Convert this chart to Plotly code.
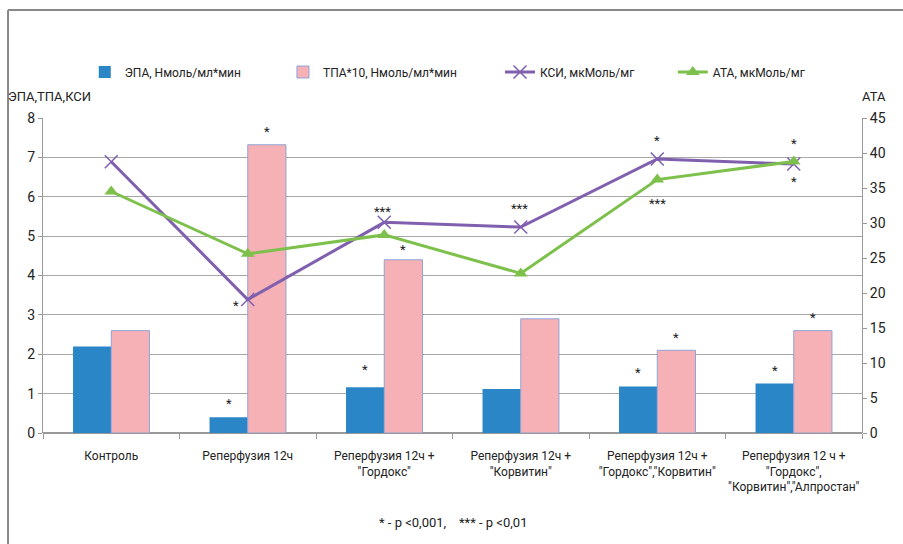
import plotly.graph_objects as go

categories = ["Контроль", "Реперфузия 12ч", "Реперфузия 12ч +<br>\"Гордокс\"",
              "Реперфузия 12ч +<br>\"Корвитин\"", "Реперфузия 12ч +<br>\"Гордокс\",\"Корвитин\"",
              "Реперфузия 12 ч +<br>\"Гордокс\",<br>\"Корвитин\",\"Алпростан\""]
epa = [2.2, 0.40, 1.16, 1.12, 1.18, 1.26]
tpa = [2.6, 7.32, 4.40, 2.9, 2.1, 2.6]
ksi = [6.89, 3.39, 5.35, 5.23, 6.96, 6.83]
ata = [34.5, 25.6, 28.3, 22.8, 36.2, 38.8]

left_ticks = [0, 1, 2, 3, 4, 5, 6, 7, 8]
right_ticks = [0, 5, 10, 15, 20, 25, 30, 35, 40, 45]

# significance marks: (category index offset, y on left axis, text)
stars = [
    (1 - 0.14, 0.74, "*"), (1 + 0.14, 7.65, "*"), (0.914, 3.23, "*"),
    (2 - 0.14, 1.61, "*"), (2 + 0.14, 4.66, "*"), (1.99, 5.62, "***"),
    (2.99, 5.70, "***"),
    (4 - 0.14, 1.53, "*"), (4 + 0.14, 2.42, "*"), (4, 7.42, "*"), (4, 5.82, "***"),
    (5 - 0.14, 1.58, "*"), (5 + 0.14, 2.93, "*"), (5, 7.35, "*"), (5, 6.38, "*"),
]

FONT = "Roboto, Liberation Sans, sans-serif"

fig = go.Figure()
fig.add_trace(go.Bar(x=categories, y=epa, name="ЭПА, Нмоль/мл*мин", legend="legend",
                     marker=dict(color="#2a86c6", line=dict(width=0))))
fig.add_trace(go.Bar(x=categories, y=tpa, name="ТПА*10, Нмоль/мл*мин", legend="legend2",
                     marker=dict(color="#f5b1b5", line=dict(color="#8fa3d8", width=1))))
fig.add_trace(go.Scatter(x=categories, y=ksi, name="КСИ, мкМоль/мг", mode="lines+markers",
                         legend="legend3",
                         line=dict(color="#7f5fae", width=3),
                         marker=dict(symbol="x-thin", size=13, line=dict(color="#7f5fae", width=1.5))))
fig.add_trace(go.Scatter(x=categories, y=ata, name="АТА, мкМоль/мг", mode="lines+markers", yaxis="y2",
                         legend="legend4",
                         line=dict(color="#7dc04b", width=3),
                         marker=dict(symbol="triangle-up", size=12, color="#7dc04b")))

annotations = []
for xi, yv, t in stars:
    annotations.append(dict(x=xi, y=yv, xref="x", yref="y", text=t, showarrow=False,
                            font=dict(size=13, color="#222", family=FONT), yanchor="middle"))
annotations.append(dict(x=-0.045, y=1.067, xref="paper", yref="paper", text="ЭПА,ТПА,КСИ",
                        showarrow=False, xanchor="left", yanchor="middle",
                        font=dict(size=13, color="#222", family=FONT)))
annotations.append(dict(x=0.998, y=1.067, xref="paper", yref="paper", text="АТА",
                        showarrow=False, xanchor="left", yanchor="middle",
                        font=dict(size=13, color="#222", family=FONT)))
annotations.append(dict(x=0.5, y=-0.283, xref="paper", yref="paper",
                        text="* - p &lt;0,001,&nbsp;&nbsp;&nbsp;&nbsp;*** - p &lt;0,01",
                        showarrow=False, xanchor="center", yanchor="middle",
                        font=dict(size=13, color="#222", family=FONT)))

shapes = [
    dict(type="line", xref="paper", yref="paper", x0=-0.0427, x1=1.06, y0=1.343, y1=1.343,
         line=dict(color="#888888", width=2)),
    dict(type="line", xref="paper", yref="paper", x0=-0.0427, x1=-0.0427, y0=1.343, y1=-0.4,
         line=dict(color="#888888", width=2)),
]

def leg(xp):
    return dict(orientation="h", x=xp, y=1.146, xanchor="left", yanchor="middle",
                font=dict(size=12, family=FONT), bgcolor="rgba(0,0,0,0)")

fig.update_layout(
    width=903, height=544,
    margin=dict(l=43, r=41, t=118, b=111, autoexpand=False),
    paper_bgcolor="white", plot_bgcolor="white",
    font=dict(family=FONT, size=13, color="#222"),
    barmode="group", bargap=0.44, bargroupgap=0,
    showlegend=True,
    legend=leg(0.051), legend2=leg(0.293), legend3=leg(0.558), legend4=leg(0.769),
    xaxis=dict(type="category", showgrid=False, showline=False, ticks="outside",
               tickson="boundaries", ticklen=5, tickcolor="#999", tickangle=0,
               ticklabelstandoff=14, automargin=False, tickfont=dict(size=12)),
    yaxis=dict(range=[0, 8], tickvals=left_ticks, showgrid=True, gridcolor="#a8a8a8",
               gridwidth=1, showline=True, linecolor="#999", ticks="outside", ticklen=4,
               tickcolor="#999", zeroline=True, zerolinecolor="#999", tickfont=dict(size=14),
               automargin=False),
    yaxis2=dict(range=[0, 45], tickvals=right_ticks, overlaying="y", side="right",
                showgrid=False, showline=True, linecolor="#999", ticks="outside", ticklen=4,
                tickcolor="#999", zeroline=False, tickfont=dict(size=14), automargin=False),
    annotations=annotations, shapes=shapes,
)

fig.write_html("out.html")
